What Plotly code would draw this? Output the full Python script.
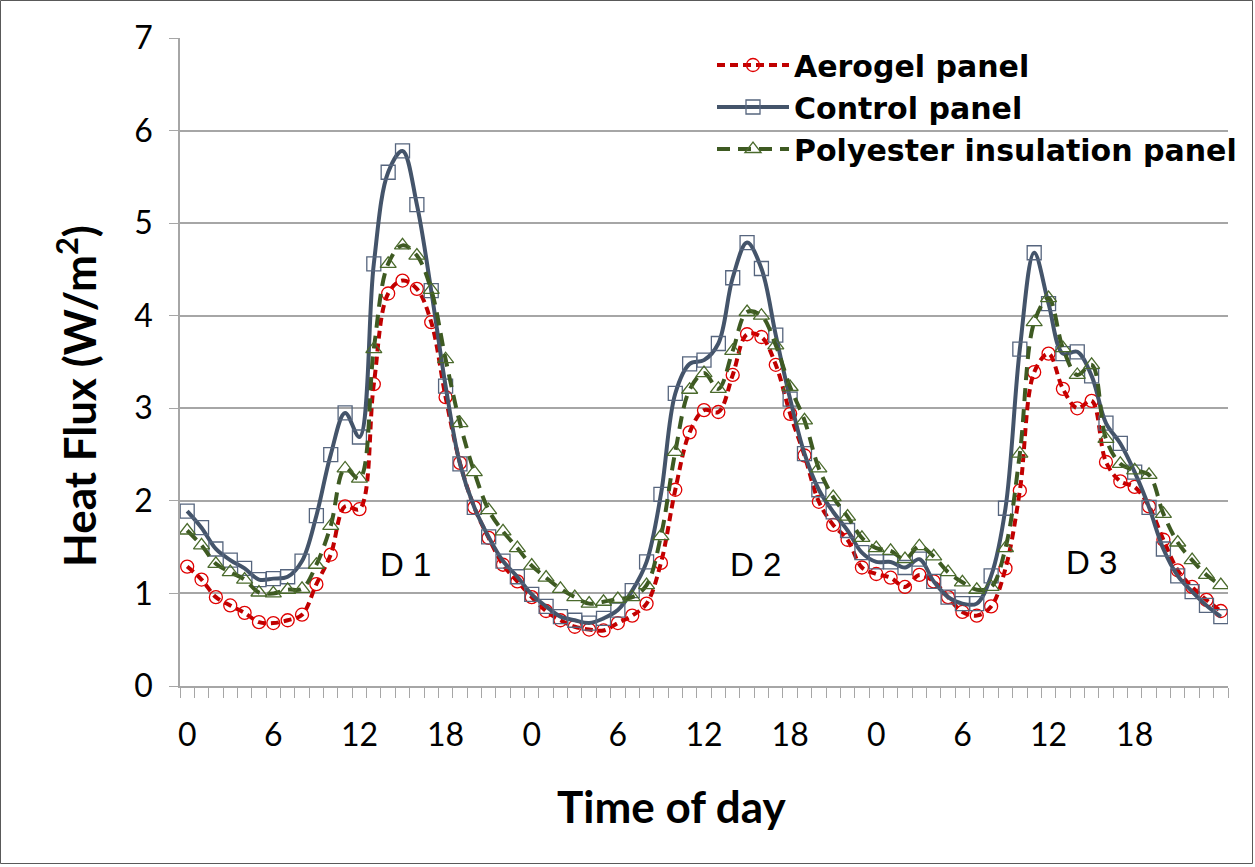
import plotly.graph_objects as go

# ---------------- data ----------------
hours = list(range(73))  # hourly samples over three days (category index)
tick_positions = [0, 6, 12, 18, 24, 30, 36, 42, 48, 54, 60, 66]
tick_labels = ["0", "6", "12", "18", "0", "6", "12", "18", "0", "6", "12", "18"]

aerogel = [1.29, 1.15, 0.96, 0.87, 0.79, 0.69, 0.68, 0.71, 0.77, 1.10, 1.42, 1.94, 1.91,
           3.26, 4.24, 4.38, 4.29, 3.93, 3.12, 2.41, 1.93, 1.60, 1.31, 1.13,
           0.96, 0.81, 0.71, 0.64, 0.61, 0.60, 0.68, 0.76, 0.89, 1.33, 2.12, 2.74,
           2.98, 2.96, 3.36, 3.80, 3.77, 3.47, 2.94, 2.49, 1.99, 1.74, 1.58, 1.28,
           1.21, 1.17, 1.07, 1.20, 1.13, 0.96, 0.80, 0.76, 0.86, 1.27, 2.11, 3.39,
           3.59, 3.21, 3.00, 3.08, 2.42, 2.21, 2.15, 1.94, 1.58, 1.25, 1.07, 0.93, 0.81]

control = [1.89, 1.71, 1.48, 1.36, 1.27, 1.15, 1.16, 1.18, 1.35, 1.84, 2.50, 2.95, 2.69,
           4.56, 5.55, 5.78, 5.20, 4.27, 3.24, 2.40, 1.93, 1.61, 1.35, 1.18,
           0.99, 0.86, 0.75, 0.71, 0.68, 0.73, 0.82, 1.03, 1.34, 2.07, 3.16, 3.48,
           3.52, 3.70, 4.41, 4.79, 4.51, 3.79, 3.10, 2.51, 2.12, 1.88, 1.68, 1.44,
           1.34, 1.34, 1.28, 1.37, 1.13, 0.96, 0.89, 0.89, 1.19, 1.92, 3.64, 4.68,
           4.13, 3.59, 3.61, 3.35, 2.84, 2.62, 2.31, 1.93, 1.48, 1.19, 1.02, 0.87, 0.75]

polyester = [1.68, 1.52, 1.32, 1.23, 1.15, 1.01, 1.00, 1.04, 1.05, 1.31, 1.73, 2.35, 2.24,
             3.64, 4.56, 4.76, 4.65, 4.28, 3.53, 2.84, 2.31, 1.90, 1.67, 1.49,
             1.30, 1.17, 1.05, 0.96, 0.89, 0.91, 0.94, 0.96, 1.09, 1.62, 2.53, 3.20,
             3.38, 3.21, 3.62, 4.04, 4.00, 3.68, 3.23, 2.87, 2.35, 2.04, 1.83, 1.60,
             1.49, 1.46, 1.37, 1.51, 1.40, 1.23, 1.12, 1.04, 1.07, 1.49, 2.51, 3.93,
             4.19, 3.65, 3.36, 3.47, 2.67, 2.40, 2.33, 2.28, 1.86, 1.55, 1.36, 1.20, 1.09]

day_labels = ["D 1", "D 2", "D 3"]
day_label_x = [15.2, 39.6, 63.0]
day_label_y = [1.31, 1.31, 1.33]

# ---------------- figure ----------------
W, H = 1255, 867
L, R, T, B = 180, 27, 38, 181
pw, ph = W - L - R, H - T - B

def px_x(p):
    return (p - L) / pw

def px_y(p):
    return (H - B - p) / ph

fig = go.Figure()
fig.add_trace(go.Scatter(
    x=hours, y=aerogel, name="Aerogel panel", mode="lines+markers",
    line=dict(color="#C00000", width=4, dash="8px,5px", shape="spline", smoothing=1),
    marker=dict(symbol="circle-open", size=13, color="#E00000", line=dict(width=1.3, color="#E00000")),
))
fig.add_trace(go.Scatter(
    x=hours, y=control, name="Control panel", mode="lines+markers",
    line=dict(color="#44546A", width=4, shape="spline", smoothing=1),
    marker=dict(symbol="square-open", size=14, color="#56657E", line=dict(width=1.3, color="#56657E")),
))
fig.add_trace(go.Scatter(
    x=hours, y=polyester, name="Polyester insulation panel", mode="lines+markers",
    line=dict(color="#3E5A22", width=4, dash="13px,8px", shape="spline", smoothing=1),
    marker=dict(symbol="triangle-up-open", size=14, color="#4A6A2C", line=dict(width=1.3, color="#4A6A2C")),
))

for t, x, y in zip(day_labels, day_label_x, day_label_y):
    fig.add_annotation(x=x, y=y, xref="x", yref="y", text=t, showarrow=False,
                       font=dict(family="Liberation Sans", size=33, color="black"))

# axis titles
fig.add_annotation(x=px_x(671), y=px_y(806), xref="paper", yref="paper",
                   xanchor="center", yanchor="middle",
                   text="<b>Time of day</b>", showarrow=False,
                   font=dict(family="Lato", size=44, color="black"))
fig.add_annotation(x=px_x(76), y=px_y(396), xref="paper", yref="paper",
                   xanchor="center", yanchor="middle",
                   text="<b>Heat Flux (W/m<sup>2</sup>)</b>", showarrow=False, textangle=-90,
                   font=dict(family="Lato", size=44, color="black"))

# outer chart border
fig.add_shape(type="rect", xref="paper", yref="paper",
              x0=px_x(0.5), x1=px_x(1252.5), y0=px_y(863.5), y1=px_y(0.5),
              line=dict(color="#595959", width=1), fillcolor="rgba(0,0,0,0)", layer="below")

grid = "#A6A6A6"
fig.update_layout(
    width=W, height=H,
    margin=dict(l=L, r=R, t=T, b=B, autoexpand=False),
    paper_bgcolor="white", plot_bgcolor="white",
    font=dict(family="Lato", color="black"),
    showlegend=True,
    legend=dict(x=px_x(712), y=px_y(39), xanchor="left", yanchor="top",
                bgcolor="rgba(0,0,0,0)",
                font=dict(family="DejaVu Sans", size=30, color="black", weight="bold"),
                itemwidth=72, tracegroupgap=0),
    xaxis=dict(range=[-0.5, 72.5], tickmode="array", tickvals=tick_positions, ticktext=tick_labels,
               ticks="outside", ticklen=20, tickcolor="rgba(0,0,0,0)",
               tickfont=dict(family="Lato", size=32, color="black"),
               showgrid=False, zeroline=False, showline=True, linecolor=grid, linewidth=1.5,
               minor=dict(tickmode="linear", tick0=-0.5, dtick=1, ticks="outside", ticklen=10,
                          tickcolor=grid, tickwidth=1.2, showgrid=False)),
    yaxis=dict(range=[0, 7], dtick=1, tick0=0, ticks="outside", ticklen=9, tickcolor=grid,
               tickfont=dict(family="Lato", size=32, color="black"),
               showgrid=True, gridcolor=grid, gridwidth=1.5, zeroline=False,
               showline=True, linecolor=grid, linewidth=1.5, ticklabelstandoff=10),
)

fig.write_html("out.html")
